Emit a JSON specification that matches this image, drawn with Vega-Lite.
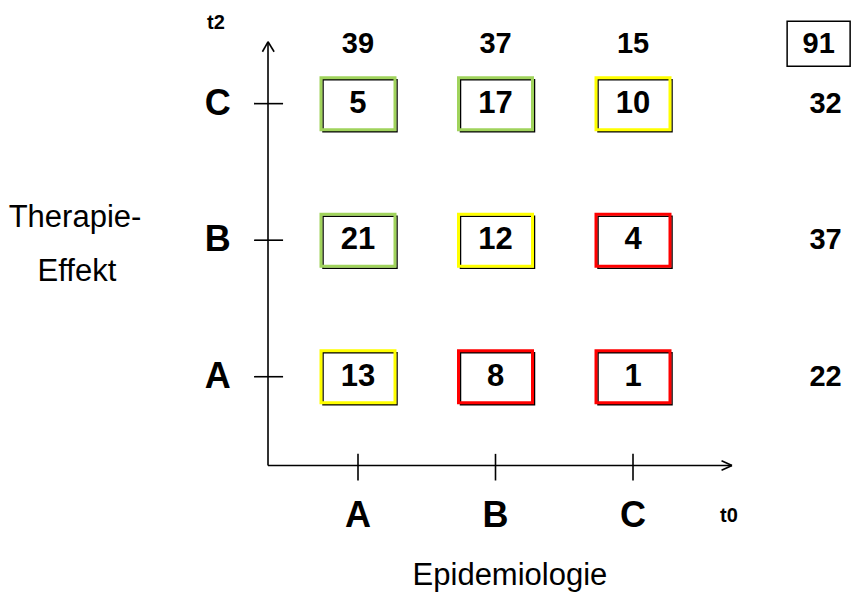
{
  "$schema": "https://vega.github.io/schema/vega-lite/v6.json",
  "width": 855,
  "height": 592,
  "padding": 0,
  "autosize": {"type": "fit", "contains": "padding"},
  "background": "white",
  "config": {"view": {"stroke": null}},
  "datasets": {
    "cells": [
      {"t0": "A", "t2": "C", "x": 1, "y": 3, "n": 5, "group": "green"},
      {"t0": "B", "t2": "C", "x": 2, "y": 3, "n": 17, "group": "green"},
      {"t0": "C", "t2": "C", "x": 3, "y": 3, "n": 10, "group": "yellow"},
      {"t0": "A", "t2": "B", "x": 1, "y": 2, "n": 21, "group": "green"},
      {"t0": "B", "t2": "B", "x": 2, "y": 2, "n": 12, "group": "yellow"},
      {"t0": "C", "t2": "B", "x": 3, "y": 2, "n": 4, "group": "red"},
      {"t0": "A", "t2": "A", "x": 1, "y": 1, "n": 13, "group": "yellow"},
      {"t0": "B", "t2": "A", "x": 2, "y": 1, "n": 8, "group": "red"},
      {"t0": "C", "t2": "A", "x": 3, "y": 1, "n": 1, "group": "red"}
    ],
    "totals": [
      {"label": "t0 A", "x": 1, "y": 3.438, "n": 39},
      {"label": "t0 B", "x": 2, "y": 3.438, "n": 37},
      {"label": "t0 C", "x": 3, "y": 3.438, "n": 15},
      {"label": "t2 C", "x": 4.4, "y": 3, "n": 32},
      {"label": "t2 B", "x": 4.4, "y": 2, "n": 37},
      {"label": "t2 A", "x": 4.4, "y": 1, "n": 22}
    ],
    "grand": [
      {"label": "gesamt", "x": 4.35, "y": 3.438, "n": 91}
    ],
    "categories": [
      {"text": "A", "x": 1, "y": -0.02},
      {"text": "B", "x": 2, "y": -0.02},
      {"text": "C", "x": 3, "y": -0.02},
      {"text": "A", "x": -0.02, "y": 1},
      {"text": "B", "x": -0.02, "y": 2},
      {"text": "C", "x": -0.02, "y": 3}
    ],
    "times": [
      {"text": "t2", "x": -0.033, "y": 3.59},
      {"text": "t0", "x": 3.698, "y": -0.02}
    ],
    "titles": [
      {"text": "Therapie-", "x": -1.058, "y": 2.16},
      {"text": "Effekt", "x": -1.044, "y": 1.766},
      {"text": "Epidemiologie", "x": 2.105, "y": -0.46}
    ],
    "lines": [
      {"part": "y axis", "x": 0.3455, "y": 0.35, "x2": 0.3455, "y2": 3.453},
      {"part": "x axis", "x": 0.3455, "y": 0.35, "x2": 3.72, "y2": 0.35},
      {"part": "y arrow", "x": 0.305, "y": 3.38, "x2": 0.3455, "y2": 3.453},
      {"part": "y arrow", "x": 0.39, "y": 3.38, "x2": 0.3455, "y2": 3.453},
      {"part": "x arrow", "x": 3.644, "y": 0.385, "x2": 3.72, "y2": 0.35},
      {"part": "x arrow", "x": 3.644, "y": 0.315, "x2": 3.72, "y2": 0.35},
      {"part": "y tick", "x": 0.244, "y": 1, "x2": 0.455, "y2": 1},
      {"part": "y tick", "x": 0.244, "y": 2, "x2": 0.455, "y2": 2},
      {"part": "y tick", "x": 0.244, "y": 3, "x2": 0.455, "y2": 3},
      {"part": "x tick", "x": 1, "y": 0.435, "x2": 1, "y2": 0.24},
      {"part": "x tick", "x": 2, "y": 0.435, "x2": 2, "y2": 0.24},
      {"part": "x tick", "x": 3, "y": 0.435, "x2": 3, "y2": 0.24}
    ]
  },
  "encoding": {
    "x": {"field": "x", "type": "quantitative", "scale": {"domain": [-1.6036, 4.6145], "nice": false, "zero": false}, "axis": null},
    "y": {"field": "y", "type": "quantitative", "scale": {"domain": [-0.562, 3.759], "nice": false, "zero": false}, "axis": null}
  },
  "layer": [
    {
      "data": {"name": "lines"},
      "mark": {"type": "rule", "color": "black", "strokeWidth": 1.6},
      "encoding": {"x2": {"field": "x2"}, "y2": {"field": "y2"}}
    },
    {
      "data": {"name": "cells"},
      "mark": {"type": "point", "shape": "M-1,-0.7027H1V0.7027H-1Z", "size": 5476, "filled": false, "stroke": "black", "strokeWidth": 1.5, "opacity": 1, "xOffset": 2, "yOffset": 2}
    },
    {
      "data": {"name": "cells"},
      "mark": {"type": "point", "shape": "M-1,-0.7027H1V0.7027H-1Z", "size": 5476, "filled": false, "strokeWidth": 3, "opacity": 1},
      "encoding": {
        "stroke": {"field": "group", "type": "nominal", "scale": {"domain": ["green", "yellow", "red"], "range": ["#A0D35C", "#FFFF00", "#FF0000"]}, "legend": null}
      }
    },
    {
      "data": {"name": "cells"},
      "mark": {"type": "text", "font": "Liberation Sans", "fontWeight": "bold", "fontSize": 31, "baseline": "middle", "align": "center", "color": "black"},
      "encoding": {"text": {"field": "n", "type": "quantitative"}}
    },
    {
      "data": {"name": "totals"},
      "mark": {"type": "text", "font": "Liberation Sans", "fontWeight": "bold", "fontSize": 29, "baseline": "middle", "align": "center", "color": "black"},
      "encoding": {"text": {"field": "n", "type": "quantitative"}}
    },
    {
      "data": {"name": "grand"},
      "mark": {"type": "point", "shape": "M-1,-0.714H1V0.714H-1Z", "size": 3969, "filled": false, "stroke": "black", "strokeWidth": 1.5, "opacity": 1}
    },
    {
      "data": {"name": "grand"},
      "mark": {"type": "text", "font": "Liberation Sans", "fontWeight": "bold", "fontSize": 29, "baseline": "middle", "align": "center", "color": "black"},
      "encoding": {"text": {"field": "n", "type": "quantitative"}}
    },
    {
      "data": {"name": "categories"},
      "mark": {"type": "text", "font": "Liberation Sans", "fontWeight": "bold", "fontSize": 36, "baseline": "middle", "align": "center", "color": "black"},
      "encoding": {"text": {"field": "text", "type": "nominal"}}
    },
    {
      "data": {"name": "times"},
      "mark": {"type": "text", "font": "Liberation Sans", "fontWeight": "bold", "fontSize": 20, "baseline": "middle", "align": "center", "color": "black"},
      "encoding": {"text": {"field": "text", "type": "nominal"}}
    },
    {
      "data": {"name": "titles"},
      "mark": {"type": "text", "font": "Liberation Sans", "fontSize": 31, "baseline": "middle", "align": "center", "color": "black"},
      "encoding": {"text": {"field": "text", "type": "nominal"}}
    }
  ]
}
